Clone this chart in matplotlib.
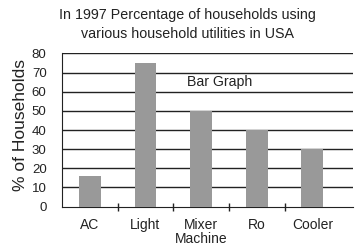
import matplotlib.pyplot as plt
import numpy as np

plt.rcParams['font.family'] = ['Liberation Sans', 'DejaVu Sans']

categories = ['AC', 'Light', 'Mixer\nMachine', 'Ro', 'Cooler']
percent = [16, 75, 50, 40, 30]
yticks = [0, 10, 20, 30, 40, 50, 60, 70, 80]

fig = plt.figure(figsize=(3.62, 2.52), dpi=100)
ax = fig.add_axes([0.171, 0.180, 0.804, 0.608])

x = np.arange(len(categories))
ax.bar(x, percent, width=0.39, color='#999999', zorder=3)

# horizontal grid lines
for v in yticks[1:]:
    ax.axhline(v, color='#222222', lw=1.0, zorder=1)

ax.set_xlim(-0.5, 4.73)
ax.set_ylim(0, 80)
ax.set_yticks(yticks)
ax.set_xticks(x)
ax.set_xticklabels(categories, fontsize=10, color='#222222', linespacing=1.0)
ax.set_xticks(x[:-1] + 0.5, minor=True)
ax.tick_params(axis='x', which='major', length=0, pad=8)
ax.tick_params(axis='x', which='minor', length=6, direction='inout', width=1, color='#222222')
ax.tick_params(axis='y', length=0, pad=11, labelsize=9.5, labelcolor='#222222')

for s in ['top', 'right']:
    ax.spines[s].set_visible(False)
ax.spines['left'].set_color('#222222')
ax.spines['bottom'].set_color('#222222')

ax.set_ylabel('% of Households', fontsize=12.5, color='#222222', labelpad=3, y=0.53)
ax.text(2.34, 65.2, 'Bar Graph', fontsize=10.2, color='#222222', ha='center', va='center', zorder=4)

fig.text(0.517, 0.903, 'In 1997 Percentage of households using\nvarious household utilities in USA',
         ha='center', va='center', fontsize=10.3, color='#222222', linespacing=1.45)

fig.savefig('out.png', dpi=100)
